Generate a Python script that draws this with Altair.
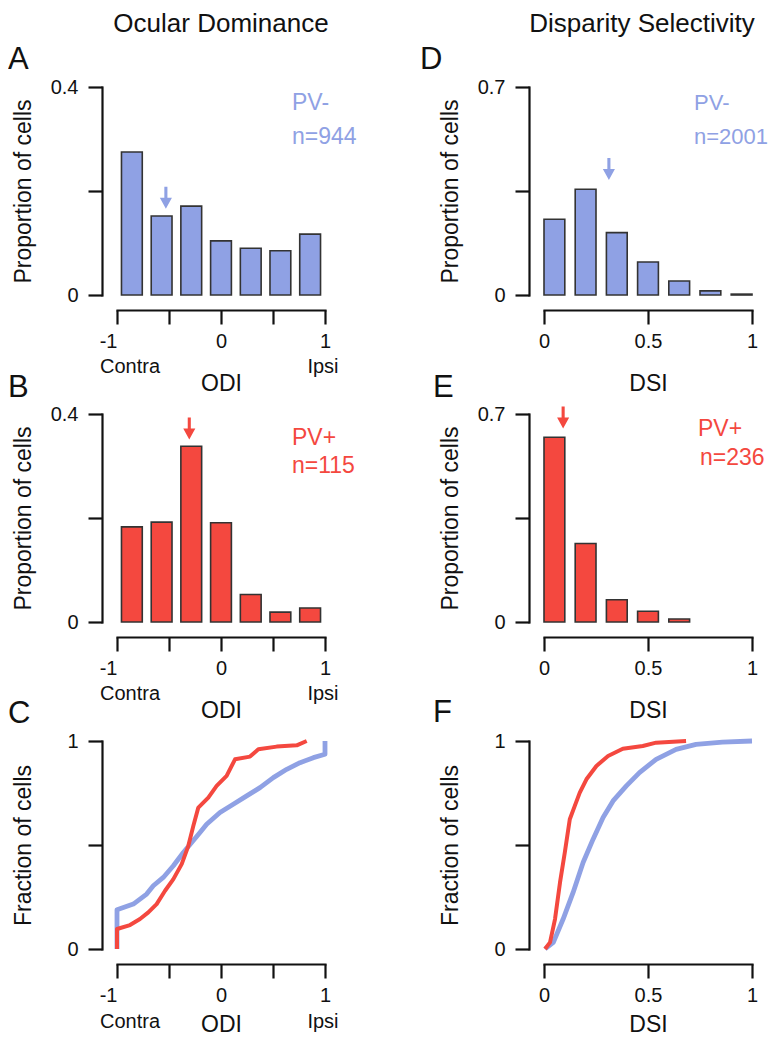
import altair as alt
import pandas as pd

# ---------------- data ----------------
odi_bin_centers = [-0.857, -0.571, -0.286, 0.0, 0.286, 0.571, 0.857]
pvneg_odi_prop = [0.275, 0.152, 0.171, 0.104, 0.090, 0.085, 0.117]
pvpos_odi_prop = [0.183, 0.192, 0.338, 0.191, 0.053, 0.019, 0.027]

dsi_bin_centers = [0.05, 0.2, 0.35, 0.5, 0.65, 0.8, 0.95]
pvneg_dsi_prop = [0.255, 0.356, 0.210, 0.111, 0.047, 0.014, 0.003]
pvpos_dsi_prop = [0.622, 0.264, 0.075, 0.036, 0.010]

# medians (arrows) : x position and height of arrow centre
pvneg_odi_median = [-0.53, 0.187]
pvpos_odi_median = [-0.305, 0.372]
pvneg_dsi_median = [0.312, 0.424]
pvpos_dsi_median = [0.092, 0.688]

# cumulative distributions
pvneg_odi_cdf_x = [-1.0, -1.0, -0.843, -0.715, -0.651, -0.555, -0.458, -0.362, -0.282, -0.202,
                   -0.138, -0.01, 0.118, 0.247, 0.375, 0.503, 0.632, 0.76, 0.888, 1.0, 1.0]
pvneg_odi_cdf_y = [0.0, 0.189, 0.216, 0.264, 0.304, 0.344, 0.40, 0.464, 0.512, 0.56,
                   0.60, 0.656, 0.696, 0.736, 0.776, 0.824, 0.864, 0.896, 0.92, 0.936, 1.0]
pvpos_odi_cdf_x = [-1.0, -1.0, -0.875, -0.779, -0.699, -0.619, -0.538, -0.458, -0.378, -0.314,
                   -0.266, -0.218, -0.122, -0.042, 0.054, 0.135, 0.279, 0.359, 0.535, 0.728, 0.824]
pvpos_odi_cdf_y = [0.0, 0.096, 0.115, 0.144, 0.176, 0.216, 0.28, 0.336, 0.408, 0.496,
                   0.592, 0.68, 0.728, 0.784, 0.832, 0.912, 0.925, 0.96, 0.973, 0.979, 1.0]
pvneg_dsi_cdf_x = [0.005, 0.045, 0.092, 0.14, 0.188, 0.236, 0.284, 0.332, 0.396, 0.459,
                   0.539, 0.635, 0.731, 0.858, 1.0]
pvneg_dsi_cdf_y = [0.0, 0.032, 0.144, 0.272, 0.416, 0.528, 0.632, 0.712, 0.784, 0.848,
                   0.912, 0.96, 0.984, 0.995, 1.0]
pvpos_dsi_cdf_x = [0.005, 0.029, 0.053, 0.077, 0.10, 0.124, 0.148, 0.172, 0.204, 0.252,
                   0.308, 0.379, 0.475, 0.539, 0.683]
pvpos_dsi_cdf_y = [0.0, 0.032, 0.144, 0.32, 0.464, 0.624, 0.688, 0.752, 0.816, 0.88,
                   0.928, 0.963, 0.976, 0.992, 1.0]

# ---------------- styles ----------------
BLUE = "#8FA1E4"
RED = "#F4483F"
DARK = "#111111"
FONT = "Liberation Sans"
W = 208
H = 208
ARROW = "M-0.14,-1L0.14,-1L0.14,0L0.55,0L0,1L-0.55,0L-0.14,0Z"


def y_axis(title, vmax):
    mid = vmax / 2
    return alt.Axis(
        values=[0, mid, vmax], format="~g",
        labelExpr=f"datum.value == {mid} ? '' : datum.label",
        title=title, offset=15, tickSize=14, labelPadding=10,
        titleAngle=270, titleX=-72, titleY=H / 2, titleAlign="center",
        titleBaseline="alphabetic",
    )


def x_axis(title, kind, title_pad=21):
    if kind == "odi":
        vals = [-1, -0.5, 0, 0.5, 1]
        expr = "datum.value == -1 ? '-1' : datum.value == 0 ? '0' : datum.value == 1 ? '1' : ''"
    else:
        vals = [0, 0.5, 1]
        expr = "datum.value == 0 ? '0' : datum.value == 1 ? '1' : '0.5'"
    return alt.Axis(
        values=vals, labelExpr=expr, title=title, offset=15, tickSize=14,
        labelPadding=7, titlePadding=title_pad, labelFlush=False,
        labelAlign={"condition": {"test": "datum.value == -1", "value": "right"}, "value": "center"},
    )


def label(text, x, y, size, color=DARK, align="left"):
    return alt.Chart(pd.DataFrame({"t": [text]})).mark_text(
        font=FONT, fontSize=size, color=color, align=align, baseline="middle"
    ).encode(x=alt.value(x), y=alt.value(y), text="t:N")


def hist_panel(centers, props, half, kind, ymax, color, median, letter, letter_xy,
               pv_lines, col_title=None):
    df = pd.DataFrame({"center": centers[:len(props)], "prop": props})
    xdom = [-1, 1] if kind == "odi" else [0, 1]
    xt = "ODI" if kind == "odi" else "DSI"
    xs = alt.Scale(domain=xdom, nice=False, zero=False)
    ys = alt.Scale(domain=[0, ymax], nice=False)
    bars = alt.Chart(df).transform_calculate(
        lo=f"datum.center - {half}", hi=f"datum.center + {half}"
    ).mark_bar(fill=color, stroke="#333333", strokeWidth=1.6, opacity=1).encode(
        x=alt.X("lo:Q", scale=xs, axis=x_axis(xt, kind)),
        x2="hi:Q",
        y=alt.Y("prop:Q", scale=ys, axis=y_axis("Proportion of cells", ymax)),
        y2=alt.datum(0),
    )
    arrow = alt.Chart(pd.DataFrame({"m": [median[0]], "h": [median[1]]})).mark_point(
        shape=ARROW, size=484, filled=True, fill=color, strokeWidth=0, opacity=1
    ).encode(x=alt.X("m:Q", scale=xs), y=alt.Y("h:Q", scale=ys))
    layers = [bars, arrow, label(letter, letter_xy[0], letter_xy[1], 31)]
    for t, x, y, fs in pv_lines:
        layers.append(label(t, x, y, fs, color))
    if kind == "odi":
        layers.append(label("Contra", 13, 280, 20, align="center"))
        layers.append(label("Ipsi", 206, 280, 20, align="center"))
    if col_title:
        layers.append(label(col_title[0], col_title[1], -63, 26, align="center"))
    return alt.layer(*layers).properties(width=W, height=H)


def cdf_panel(kind, neg_x, neg_y, pos_x, pos_y, letter, letter_xy):
    xdom = [-1, 1] if kind == "odi" else [0, 1]
    xt = "ODI" if kind == "odi" else "DSI"
    dn = pd.DataFrame({"v": neg_x, "f": neg_y, "i": range(len(neg_x))})
    dp = pd.DataFrame({"v": pos_x, "f": pos_y, "i": range(len(pos_x))})
    xs = alt.Scale(domain=xdom, nice=False, zero=False)
    ys = alt.Scale(domain=[0, 1], nice=False)
    neg = alt.Chart(dn).mark_line(color=BLUE, strokeWidth=4.8, strokeJoin="round").encode(
        x=alt.X("v:Q", scale=xs, axis=x_axis(xt, kind, title_pad=8)),
        y=alt.Y("f:Q", scale=ys, axis=y_axis("Fraction of cells", 1)),
        order="i:Q",
    )
    pos = alt.Chart(dp).mark_line(color=RED, strokeWidth=4, strokeJoin="round").encode(
        x=alt.X("v:Q", scale=xs), y=alt.Y("f:Q", scale=ys), order="i:Q"
    )
    layers = [neg, pos, label(letter, letter_xy[0], letter_xy[1], 31)]
    if kind == "odi":
        layers.append(label("Contra", 13, 281, 20, align="center"))
        layers.append(label("Ipsi", 206, 281, 20, align="center"))
    return alt.layer(*layers).properties(width=W, height=H)


pA = hist_panel(odi_bin_centers, pvneg_odi_prop, 0.1, "odi", 0.4, BLUE, pvneg_odi_median,
                "A", (-109, -27), [("PV-", 175, 16, 23), ("n=944", 175, 50, 23)],
                col_title=("Ocular Dominance", 104))
pD = hist_panel(dsi_bin_centers, pvneg_dsi_prop, 0.05, "dsi", 0.7, BLUE, pvneg_dsi_median,
                "D", (-124, -27), [("PV-", 150, 16, 22), ("n=2001", 150, 50, 22)],
                col_title=("Disparity Selectivity", 98))
pB = hist_panel(odi_bin_centers, pvpos_odi_prop, 0.1, "odi", 0.4, RED, pvpos_odi_median,
                "B", (-109, -26), [("PV+", 175, 24, 23), ("n=115", 175, 52, 23)])
pE = hist_panel(dsi_bin_centers, pvpos_dsi_prop, 0.05, "dsi", 0.7, RED, pvpos_dsi_median,
                "E", (-111, -26), [("PV+", 154, 15, 23), ("n=236", 156, 44, 23)])
pC = cdf_panel("odi", pvneg_odi_cdf_x, pvneg_odi_cdf_y, pvpos_odi_cdf_x, pvpos_odi_cdf_y,
               "C", (-109, -27))
pF = cdf_panel("dsi", pvneg_dsi_cdf_x, pvneg_dsi_cdf_y, pvpos_dsi_cdf_x, pvpos_dsi_cdf_y,
               "F", (-111, -28))

chart = alt.concat(
    pA, pD, pB, pE, pC, pF, columns=2,
    spacing=alt.RowColnumber(row=119, column=219),
    bounds="flush",
).properties(
    padding={"top": 3, "left": 0, "right": 0, "bottom": 0}, background="white"
).configure_view(
    stroke=None
).configure_axis(
    offset=15, tickSize=14, domainWidth=2.2, tickWidth=2.2,
    domainColor=DARK, tickColor=DARK, labelColor=DARK, titleColor=DARK,
    labelFont=FONT, titleFont=FONT, labelFontSize=20, titleFontSize=23,
    titleFontWeight="normal", grid=False, domainCap="square", labelFlush=False,
)

chart.save("out.html", embed_options={"renderer": "svg", "actions": False})
